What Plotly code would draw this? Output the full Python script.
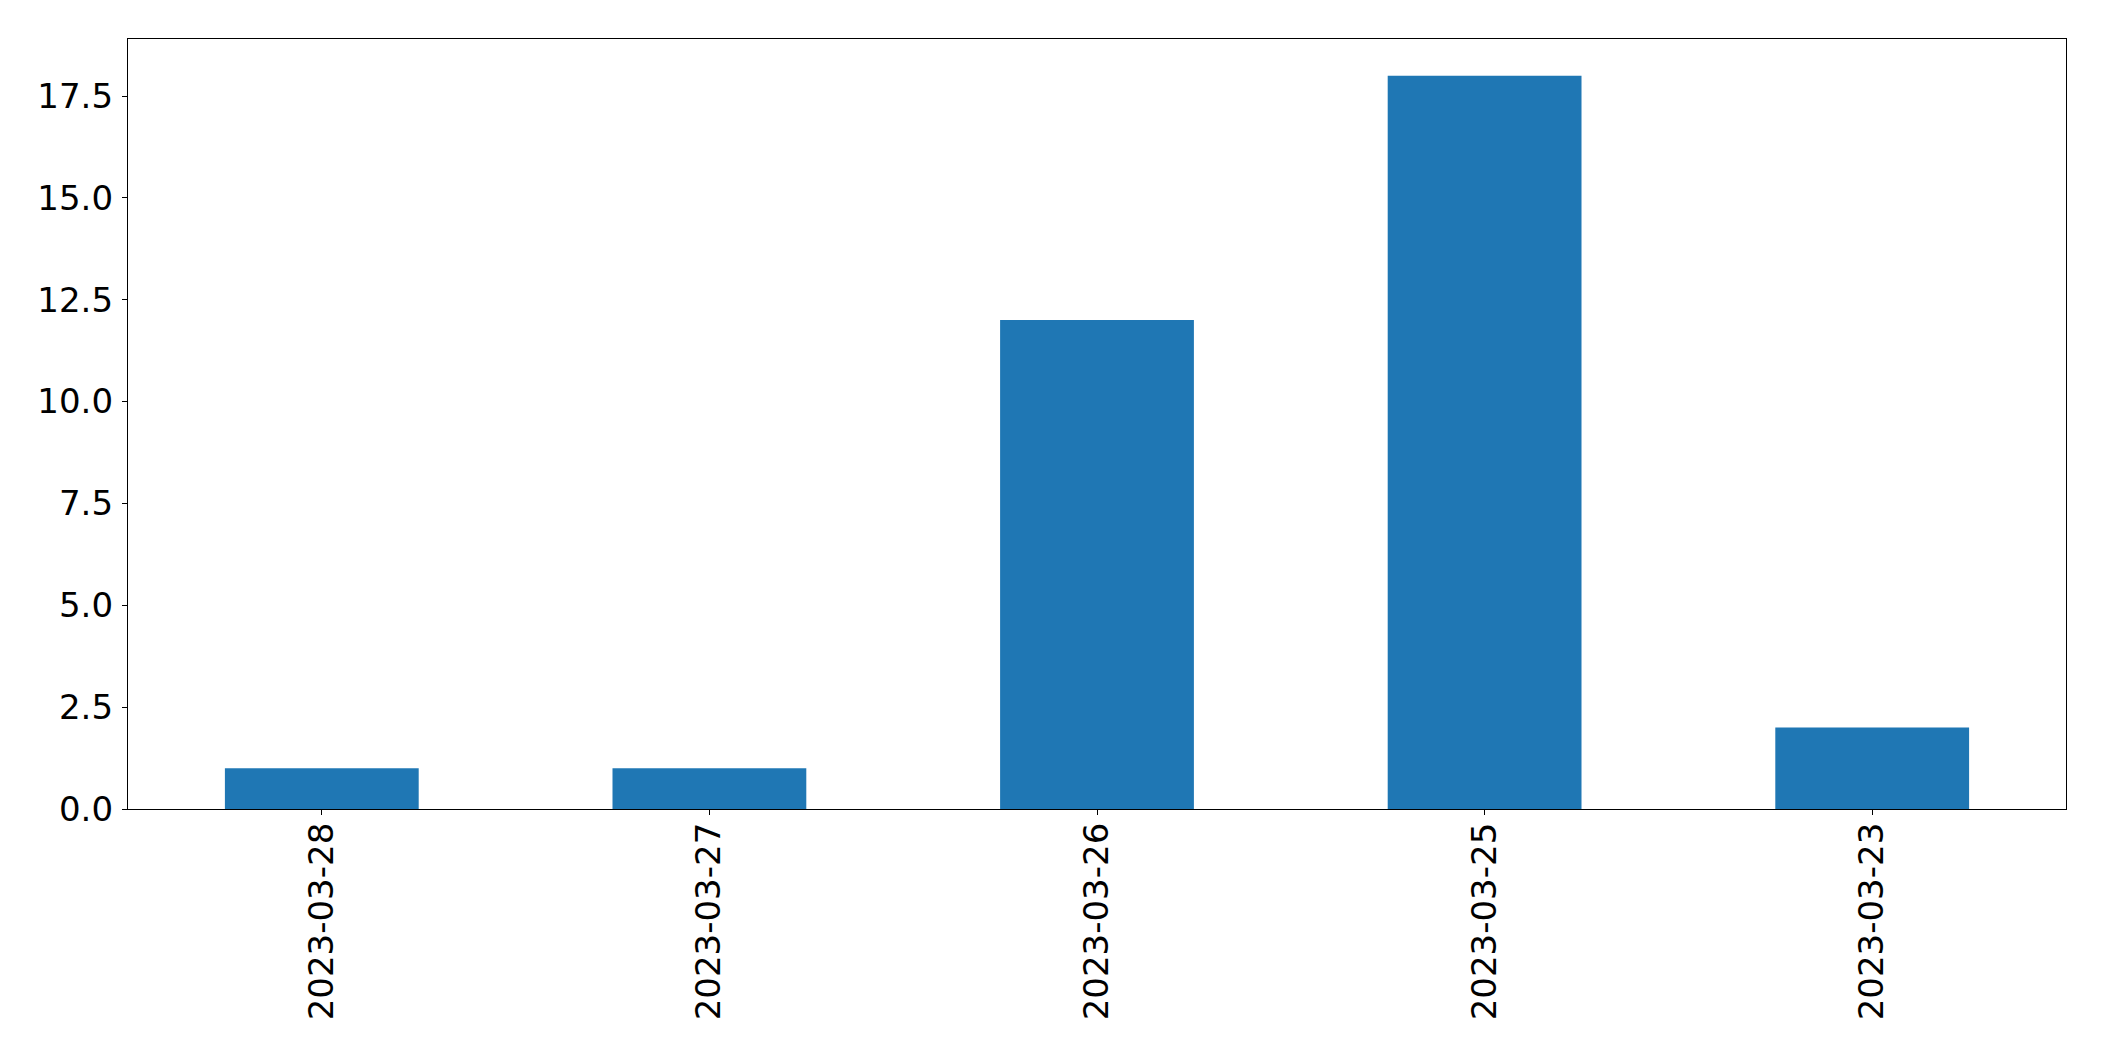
import plotly.graph_objects as go

categories = ["2023-03-28", "2023-03-27", "2023-03-26", "2023-03-25", "2023-03-23"]
counts = [1, 1, 12, 18, 2]
y_ticks = [0, 2.5, 5, 7.5, 10, 12.5, 15, 17.5]

W, H = 2104, 1061
L, R, T, B = 119.5, 46.3, 31, 260

fig = go.Figure(go.Bar(x=categories, y=counts, marker=dict(color="#1f77b4", line=dict(width=0)), width=0.5))

font = dict(family="DejaVu Sans", size=34, color="black")
fig.update_layout(
    width=W, height=H,
    margin=dict(l=L, r=R, t=T, b=B, pad=0),
    paper_bgcolor="white", plot_bgcolor="white",
    showlegend=False,
    font=font,
)
fig.update_xaxes(
    type="category", range=[-0.5, 4.5],
    showline=True, linecolor="black", linewidth=1.3, mirror=True,
    ticks="outside", ticklen=5, tickwidth=1.3, tickcolor="black",
    tickangle=-90, showgrid=False, zeroline=False, tickfont=font,
    ticklabelstandoff=-6,
)
fig.update_yaxes(
    range=[0, 18.9], tickvals=y_ticks, ticktext=[f"{v:.1f}" for v in y_ticks],
    showline=True, linecolor="black", linewidth=1.3, mirror=True,
    ticks="outside", ticklen=5, tickwidth=1.3, tickcolor="black",
    showgrid=False, zeroline=False, tickfont=font,
    ticklabelstandoff=2,
)
fig.write_html("out.html")
